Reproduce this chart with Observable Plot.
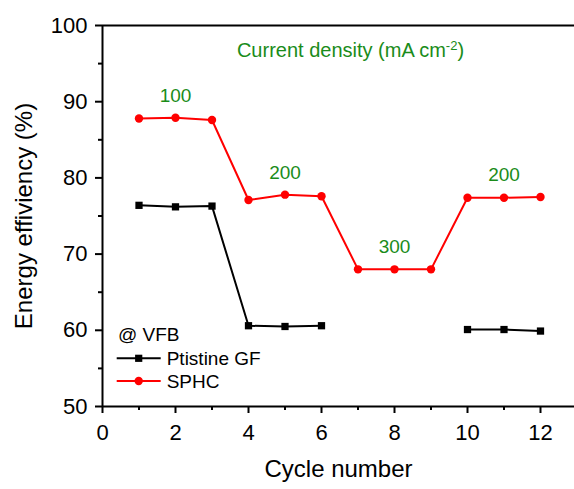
<!DOCTYPE html>
<html><head><meta charset="utf-8">
<script src="https://cdn.jsdelivr.net/npm/d3@7"></script>
<script src="https://cdn.jsdelivr.net/npm/@observablehq/plot@0.6"></script>
<style>
body{margin:0;background:#fff}
svg{font-family:"Liberation Sans",Arial,sans-serif}
</style>
</head><body><div id="chart"></div>
<script>
const cycles = [1,2,3,4,5,6,7,8,9,10,11,12];
const pristineGF = [76.4,76.2,76.3,60.6,60.5,60.6,null,null,null,60.1,60.1,59.9];
const sphc = [87.8,87.9,87.6,77.1,77.8,77.6,68.0,68.0,68.0,77.4,77.4,77.5];
const currentDensity = [100,100,100,200,200,200,300,300,300,200,200,200];
const seriesNames = ["Ptistine GF","SPHC"];
const xTicks = [0,2,4,6,8,10,12];
const xMinorTicks = [1,3,5,7,9,11];
const yTicks = [50,60,70,80,90,100];
const yMinorTicks = [55,65,75,85,95];
const xTitle = "Cycle number";
const yTitle = "Energy effiviency (%)";
const annotation = "Current density (mA cm-2)";
const legendTitle = "@ VFB";

const green = "#1a8c1a";
const rowsGF = cycles.map((c,i)=>({x:c,y:pristineGF[i]}));
const rowsS = cycles.map((c,i)=>({x:c,y:sphc[i]}));
// groups of consecutive equal current density
const groups = [];
currentDensity.forEach((d,i)=>{
  const g = groups[groups.length-1];
  if (g && g.label===d && g.end===i-1){ g.xs.push(cycles[i]); g.ys.push(sphc[i]); g.end=i; }
  else groups.push({label:d, xs:[cycles[i]], ys:[sphc[i]], end:i});
});
const groupLabels = groups.map(g=>({x:d3.mean(g.xs), y:d3.max(g.ys), text:String(g.label)}));

const W=574,H=489,ML=102,MR=0,MT=25,MB=83;
const xMax = 12 + (W-ML-MR - 12*36.5)/36.5;

const plot = Plot.plot({
  width:W, height:H, marginLeft:ML, marginRight:MR, marginTop:MT, marginBottom:MB,
  x:{domain:[0,xMax]}, y:{domain:[50,100]},
  style:{fontFamily:'"Liberation Sans",Arial,sans-serif', background:"#fff", color:"#000"},
  marks:[
    Plot.axisX({ticks:xTicks, tickSize:7, tickPadding:11, fontSize:22, strokeWidth:2, label:null}),
    Plot.axisX({ticks:xMinorTicks, tickSize:4, text:null, strokeWidth:2, label:null}),
    Plot.axisY({ticks:yTicks, tickSize:7, tickPadding:8, fontSize:22, strokeWidth:2, label:null}),
    Plot.axisY({ticks:yMinorTicks, tickSize:4, text:null, strokeWidth:2, label:null}),
    Plot.ruleX([0],{strokeWidth:2}),
    Plot.ruleY([50],{strokeWidth:2}),
    Plot.ruleY([100],{strokeWidth:2}),
    Plot.line(rowsGF,{x:"x",y:"y",stroke:"#000",strokeWidth:2}),
    Plot.dot(rowsGF.filter(d=>d.y!=null),{x:"x",y:"y",symbol:"square",r:4.1,fill:"#000"}),
    Plot.line(rowsS,{x:"x",y:"y",stroke:"#ff0000",strokeWidth:2}),
    Plot.dot(rowsS,{x:"x",y:"y",symbol:"circle",r:4.2,fill:"#ff0000"}),
    Plot.text(groupLabels,{x:"x",y:"y",text:"text",dy:-22,fill:green,fontSize:19}),
    Plot.text([annotation],{frameAnchor:"top",dx:12,dy:17,lineAnchor:"top",fill:green,fontSize:20}),
    Plot.text([xTitle],{frameAnchor:"bottom",dy:70,fontSize:24,fill:"#000"}),
    Plot.text([yTitle],{frameAnchor:"left",textAnchor:"middle",dx:-78,rotate:-90,fontSize:24,fill:"#000"})
  ]
});
document.getElementById("chart").appendChild(plot);

// superscript for the annotation
d3.select(plot).selectAll("text").filter(function(){return this.textContent===annotation;})
  .each(function(){
    const t=d3.select(this);
    t.text("");
    t.append("tspan").text("Current density (mA cm");
    t.append("tspan").attr("dy",-7).attr("font-size",13).text("-2");
    t.append("tspan").attr("dy",7).text(")");
  });

// in-plot legend
const svg = d3.select(plot);
const lg = svg.append("g").attr("font-size",19).attr("text-anchor","start").attr("font-family",'"Liberation Sans",Arial,sans-serif');
lg.append("text").attr("x",118).attr("y",340.5).text(legendTitle);
const items=[{name:seriesNames[0],color:"#000",sym:"square",y:358.3},{name:seriesNames[1],color:"#ff0000",sym:"circle",y:381}];
items.forEach(it=>{
  lg.append("line").attr("x1",116.7).attr("x2",160.7).attr("y1",it.y).attr("y2",it.y).attr("stroke",it.color).attr("stroke-width",2);
  if(it.sym==="square") lg.append("rect").attr("x",138.7-3.6).attr("y",it.y-3.6).attr("width",7.2).attr("height",7.2).attr("fill",it.color);
  else lg.append("circle").attr("cx",138.7).attr("cy",it.y).attr("r",4.2).attr("fill",it.color);
  lg.append("text").attr("x",166.7).attr("y",it.y+6.5).attr("fill","#000").text(it.name);
});
</script>
</body></html>
